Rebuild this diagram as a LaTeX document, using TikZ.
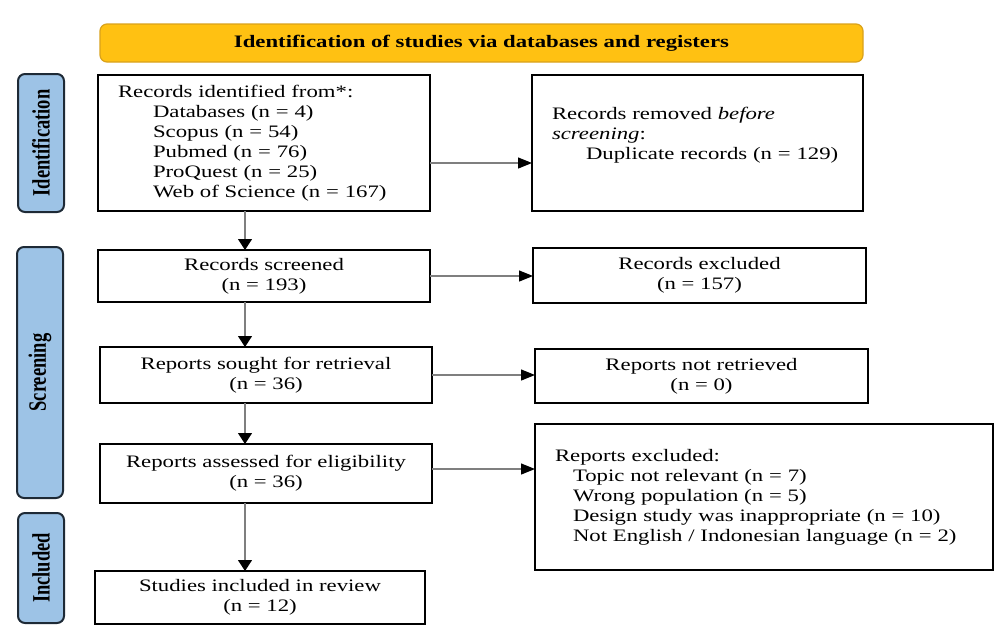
\documentclass[tikz,border=0pt]{standalone}
\usepackage{fontspec}
\setmainfont{Liberation Serif}[FakeStretch=1.3]
\newfontfamily\sidefont{Liberation Serif}
\usetikzlibrary{arrows.meta}
\definecolor{banner}{HTML}{FFC112}
\definecolor{bannerline}{HTML}{D9A21B}
\definecolor{sidefill}{HTML}{9DC3E6}
\definecolor{sideline}{HTML}{1E2A36}
\definecolor{arrowgray}{HTML}{7F7F7F}
\begin{document}
\begin{tikzpicture}[x=1pt,y=-1pt,
  every node/.style={font=\fontsize{17.5}{20}\selectfont, inner sep=0pt, outer sep=0pt},
  box/.style={draw=black, line width=2.2pt, fill=white, inner xsep=20pt},
  cbox/.style={box, align=center},
  lbox/.style={box, align=left},
  side/.style={draw=sideline, line width=2pt, fill=sidefill, rounded corners=7pt, minimum width=46pt},
  titlebar/.style={draw=bannerline, line width=1.2pt, fill=banner, rounded corners=7pt},
  varr/.style={draw=arrowgray, line width=1.2pt, -{Triangle[length=11pt,width=14pt,color=black]}},
  harr/.style={draw=arrowgray, line width=1.2pt, -{Triangle[length=14pt,width=11pt,color=black]}}
]
\useasboundingbox (0,0) rectangle (1001,635);

% title
\node[titlebar, minimum width=763pt, minimum height=38pt] (title) at (481.5,43)
  {\bfseries Identification of studies via databases and registers};

% side labels
\node[side, minimum height=138pt] (sid) at (41,143)
  {\rotatebox{90}{\scalebox{1}[1.35]{\sidefont\bfseries\fontsize{18.5}{20}\selectfont Identification}}};
\node[side, minimum height=251pt] (sscr) at (40,372.5)
  {\rotatebox{90}{\scalebox{1}[1.35]{\sidefont\bfseries\fontsize{18.5}{20}\selectfont Screening}}};
\node[side, minimum height=110pt] (sinc) at (41,568)
  {\rotatebox{90}{\scalebox{1}[1.35]{\sidefont\bfseries\fontsize{18.5}{20}\selectfont Included}}};

% left column
\node[lbox, text width=292pt, minimum height=136pt] (recid) at (264,143)
  {Records identified from*:\\
   \hspace*{35pt}Databases (n = 4)\\
   \hspace*{35pt}Scopus (n = 54)\\
   \hspace*{35pt}Pubmed (n = 76)\\
   \hspace*{35pt}ProQuest (n = 25)\\
   \hspace*{35pt}Web of Science (n = 167)};
\node[cbox, minimum width=332pt, minimum height=52pt] (screen) at (264,276)
  {Records screened\\(n = 193)};
\node[cbox, minimum width=332pt, minimum height=56pt] (sought) at (266,375)
  {Reports sought for retrieval\\(n = 36)};
\node[cbox, minimum width=332pt, minimum height=59pt] (assess) at (266,473.5)
  {Reports assessed for eligibility\\(n = 36)};
\node[cbox, minimum width=330pt, minimum height=53pt] (incl) at (260,597.5)
  {Studies included in review\\(n = 12)};

% right column
\node[lbox, text width=291pt, minimum height=136pt] (removed) at (697.5,143)
  {Records removed \textit{before}\\
   \textit{screening}:\\
   \hspace*{34pt}Duplicate records (n = 129)\\
   \mbox{}};
\node[cbox, minimum width=333pt, minimum height=55pt] (excl) at (699.5,275.5)
  {Records excluded\\(n = 157)};
\node[cbox, minimum width=333pt, minimum height=54pt] (notret) at (701.5,376)
  {Reports not retrieved\\(n = 0)};
\node[lbox, text width=418pt, minimum height=146pt] (rexcl) at (764,497)
  {Reports excluded:\\
   \hspace*{18pt}Topic not relevant (n = 7)\\
   \hspace*{18pt}Wrong population (n = 5)\\
   \hspace*{18pt}Design study was inappropriate (n = 10)\\
   \hspace*{18pt}Not English / Indonesian language (n = 2)};

% arrow guide coordinates
\coordinate (ax) at (245,0);
\coordinate (ay1) at (0,163);
\coordinate (ay4) at (0,469);

% vertical arrows
\draw[varr] (recid.south -| ax) -- (screen.north -| ax);
\draw[varr] (screen.south -| ax) -- (sought.north -| ax);
\draw[varr] (sought.south -| ax) -- (assess.north -| ax);
\draw[varr] (assess.south -| ax) -- (incl.north -| ax);

% horizontal arrows
\draw[harr] (recid.east |- ay1) -- (removed.west |- ay1);
\draw[harr] (screen.east) -- (excl.west |- screen.east);
\draw[harr] (sought.east) -- (notret.west |- sought.east);
\draw[harr] (assess.east |- ay4) -- (rexcl.west |- ay4);
\end{tikzpicture}
\end{document}
